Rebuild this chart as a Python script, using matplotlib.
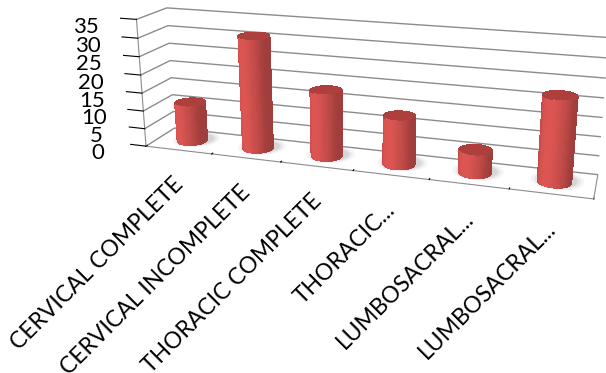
import numpy as np
import matplotlib.pyplot as plt
from matplotlib.transforms import offset_copy
from mpl_toolkits.mplot3d import proj3d
from mpl_toolkits.mplot3d.art3d import Poly3DCollection

categories = ["CERVICAL COMPLETE", "CERVICAL INCOMPLETE", "THORACIC COMPLETE",
              "THORACIC...", "LUMBOSACRAL...", "LUMBOSACRAL..."]
values = [11, 31, 18, 13, 6, 22]
zticks = [0, 5, 10, 15, 20, 25, 30, 35]

plt.rcParams['font.family'] = ['Lato', 'DejaVu Sans']

base = np.array([0.80, 0.31, 0.30])
top_color = (0.68, 0.25, 0.24)
grid_color = '#8c8c8c'

fig = plt.figure(figsize=(6.06, 3.73), dpi=100)
ax = fig.add_axes([-0.0475, 0.092, 1.27, 1.27], projection='3d', computed_zorder=False)
ax.set_proj_type('persp', focal_length=0.35)
ax.view_init(elev=17, azim=-72.5)
ax.set_box_aspect((6, 0.8, 1.78))
ax.set_xlim(-0.5, 5.5)
ax.set_ylim(0, 1)
ax.set_zlim(0, 35)

# walls: no fill, only horizontal gridlines
for axis in (ax.xaxis, ax.yaxis, ax.zaxis):
    axis.set_pane_color((1, 1, 1, 0))
    axis.pane.set_edgecolor('none')
    axis.line.set_color(grid_color)
    axis._axinfo['tick']['color'] = grid_color
    axis._axinfo['tick']['inward_factor'] = 0.0
    axis._axinfo['tick']['outward_factor'] = 0.5
ax.xaxis._axinfo['grid']['linewidth'] = 0
ax.yaxis._axinfo['grid']['linewidth'] = 0
ax.zaxis._axinfo['grid'].update(color=grid_color, linewidth=1.0)
ax.zaxis._axinfo['juggled'] = (1, 2, 0)

ax.set_xticks(np.arange(-0.5, 6, 1.0))
ax.set_xticklabels([])
ax.set_yticks([])
ax.set_zticks(zticks)
ax.tick_params(axis='z', labelsize=16, pad=13)

# cylinders
radius = 0.21
ry = radius / 0.8
theta = np.linspace(0, 2 * np.pi, 91)
light = np.deg2rad(-115)
cy = 0.5
for i, v in enumerate(values):
    # soft floor shadow
    for k, a in zip([1.55, 1.35, 1.18], [0.06, 0.08, 0.10]):
        sh = [list(zip(i + 0.03 + radius * k * np.cos(theta),
                       cy + 0.08 + ry * k * np.sin(theta),
                       np.zeros_like(theta)))]
        ax.add_collection3d(Poly3DCollection(sh, facecolor=(0.3, 0.3, 0.3, a),
                                             edgecolor='none', zorder=1))
    polys, cols = [], []
    for t0, t1 in zip(theta[:-1], theta[1:]):
        x0, x1 = i + radius * np.cos(t0), i + radius * np.cos(t1)
        y0, y1 = cy + ry * np.sin(t0), cy + ry * np.sin(t1)
        tm = 0.5 * (t0 + t1)
        b = 0.78 + 0.30 * max(np.cos(tm - light), 0) ** 1.5
        polys.append([(x0, y0, 0), (x1, y1, 0), (x1, y1, v), (x0, y0, v)])
        cols.append(tuple(np.clip(base * b, 0, 1)))
    polys.append(list(zip(i + radius * np.cos(theta), cy + ry * np.sin(theta),
                          np.full_like(theta, v))))
    cols.append(top_color)
    ax.add_collection3d(Poly3DCollection(polys, facecolors=cols, edgecolors='none',
                                         linewidths=0, antialiased=False,
                                         zorder=2 + i))

# category labels along the front edge, rotated 45 degrees
M = ax.get_proj()
label_tr = offset_copy(ax.transData, fig=fig, x=-6, y=-24, units='dots')
for i, name in enumerate(categories):
    px, py, _ = proj3d.proj_transform(i, 0, 0, M)
    ax.text2D(px, py, name, transform=label_tr, fontsize=16.5, rotation=45,
              ha='right', va='top', rotation_mode='anchor')

fig.savefig('out.png', dpi=100)
